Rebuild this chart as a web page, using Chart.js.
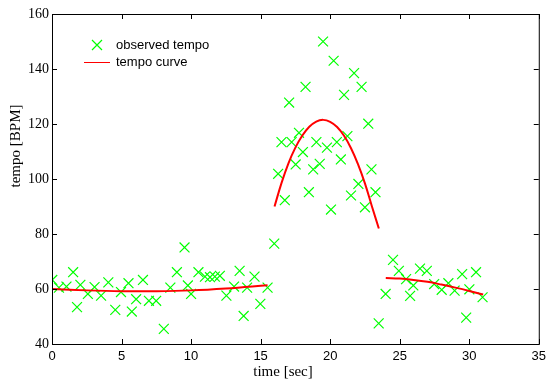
<!DOCTYPE html>
<html>
<head>
<meta charset="utf-8">
<title>tempo</title>
<script src="https://cdn.jsdelivr.net/npm/chart.js@4/dist/chart.umd.min.js"></script>
<style>
  body { margin: 0; background: #fff; }
  #wrap { width: 551px; height: 380px; }
</style>
</head>
<body>
<div id="wrap"><canvas id="tempoChart" width="551" height="380"></canvas></div>
<script>
// ====================================
// DATA
// ====================================

// observed tempo (time in sec, tempo in BPM)
const obsTime = [
    0.02, 0.5, 1.04, 1.52, 1.8, 2.04, 2.58, 3.06, 3.53, 4.05, 4.55, 4.96, 5.5, 5.74, 6.05,
    6.54, 6.97, 7.49, 8.04, 8.51, 8.98, 9.53, 9.77, 10.0, 10.53, 11.0, 11.36, 11.71, 12.07,
    12.54, 13.09, 13.49, 13.78, 14.03, 14.56, 14.98, 15.5, 15.98,
    16.26, 16.5, 16.74, 17.05, 17.23, 17.52, 17.76, 18.04, 18.23, 18.47, 18.78, 19.01, 19.25,
    19.49, 19.77, 20.06, 20.25, 20.48, 20.77, 21.0, 21.24, 21.5, 21.72, 22.03, 22.26, 22.5,
    22.74, 22.97, 23.26, 23.49,
    23.99, 24.52, 24.94, 25.46, 25.75, 25.98, 26.46, 26.95, 27.48, 28.02, 28.5, 28.95, 29.49,
    29.78, 30.01, 30.49, 30.96
];
const obsTempo = [
    63.3, 60.5, 60.9, 66.1, 53.4, 61.5, 58.2, 60.7, 57.6, 62.4, 52.4, 58.9, 62.1, 51.8, 56.3,
    63.3, 55.7, 55.7, 45.5, 60.5, 66.1, 75.1, 61.3, 58.2, 66.1, 64.5, 64.3, 64.5, 64.8,
    57.6, 60.9, 66.6, 50.2, 60.5, 64.5, 54.6, 60.5, 76.5,
    101.9, 113.4, 92.3, 127.8, 113.4, 105.3, 116.8, 109.8, 133.5, 95.2, 103.5, 113.4, 105.5,
    150.0, 111.4, 88.9, 143.0, 113.4, 107.1, 130.6, 115.6, 94.0, 138.5, 98.2, 133.5, 89.7,
    120.1, 103.5, 95.2, 47.5,
    58.2, 70.6, 66.6, 63.6, 57.5, 61.3, 67.4, 66.6, 61.8, 59.7, 62.1, 59.4, 65.4,
    49.6, 59.9, 66.1, 57.0
];

// fitted tempo curve, three pieces
const curve1Time  = [0, 2.5, 5, 7.5, 10, 12.5, 15.5];
const curve1Tempo = [60.0, 59.5, 59.2, 59.2, 59.5, 60.2, 61.4];

const curve2Time  = [16.0, 16.5, 17.0, 17.5, 18.0, 18.5, 19.0, 19.5, 20.0, 20.5, 21.0, 21.5, 22.0, 22.5, 23.0, 23.5];
const curve2Tempo = [90.0, 98.5, 105.7, 111.4, 115.8, 119.0, 120.9, 121.5, 120.8, 118.9, 115.7, 111.2, 105.4, 98.4, 90.1, 82.0];

const curve3Time  = [24, 25, 26, 27, 28, 29, 30, 31];
const curve3Tempo = [64.0, 63.8, 63.3, 62.6, 61.6, 60.5, 59.3, 58.0];

// axes
const xTickValues = [0, 5, 10, 15, 20, 25, 30, 35];
const yTickValues = [40, 60, 80, 100, 120, 140, 160];
const xTitle = 'time [sec]';
const yTitle = 'tempo [BPM]';
const legendLabels = ['observed tempo', 'tempo curve'];

// ====================================
// HELPERS
// ====================================

function toPoints(xs, ys) {
    return xs.map((x, i) => ({ x: x, y: ys[i] }));
}

const GREEN = '#00ff00';
const RED = '#ff0000';

// box, inward ticks, axis titles and legend
const framePlugin = {
    id: 'frame',
    afterDraw(chart) {
        const ctx = chart.ctx;
        const a = chart.chartArea;
        const xs = chart.scales.x;
        const ys = chart.scales.y;
        const tl = 5;

        ctx.save();
        ctx.strokeStyle = '#000';
        ctx.lineWidth = 1;
        ctx.strokeRect(a.left + 0.5, a.top + 0.5, a.right - a.left, a.bottom - a.top);

        ctx.beginPath();
        xTickValues.forEach(v => {
            const px = Math.round(xs.getPixelForValue(v)) + 0.5;
            ctx.moveTo(px, a.bottom);
            ctx.lineTo(px, a.bottom - tl);
            ctx.moveTo(px, a.top);
            ctx.lineTo(px, a.top + tl);
        });
        yTickValues.forEach(v => {
            const py = Math.round(ys.getPixelForValue(v)) + 0.5;
            ctx.moveTo(a.left, py);
            ctx.lineTo(a.left + tl, py);
            ctx.moveTo(a.right, py);
            ctx.lineTo(a.right - tl, py);
        });
        ctx.stroke();

        // axis titles
        ctx.fillStyle = '#000';
        ctx.font = '15px "Liberation Serif", serif';
        ctx.textAlign = 'center';
        ctx.textBaseline = 'middle';
        ctx.fillText(xTitle, 283, 372);
        ctx.translate(16, 146);
        ctx.rotate(-Math.PI / 2);
        ctx.fillText(yTitle, 0, 0);
        ctx.setTransform(1, 0, 0, 1, 0, 0);

        // legend
        const lx = a.left + 45;
        const ly = a.top + 31;
        ctx.strokeStyle = GREEN;
        ctx.lineWidth = 1.2;
        ctx.beginPath();
        ctx.moveTo(lx - 5, ly - 5);
        ctx.lineTo(lx + 5, ly + 5);
        ctx.moveTo(lx - 5, ly + 5);
        ctx.lineTo(lx + 5, ly - 5);
        ctx.stroke();

        ctx.strokeStyle = RED;
        ctx.lineWidth = 1;
        ctx.beginPath();
        ctx.moveTo(lx - 13, ly + 17.5);
        ctx.lineTo(lx + 13, ly + 17.5);
        ctx.stroke();

        ctx.fillStyle = '#000';
        ctx.font = '13px "Liberation Sans", Arial, sans-serif';
        ctx.textAlign = 'left';
        ctx.fillText(legendLabels[0], lx + 19, ly);
        ctx.fillText(legendLabels[1], lx + 19, ly + 17);
        ctx.restore();
    }
};

const curveStyle = {
    type: 'line',
    borderColor: RED,
    borderWidth: 2,
    pointRadius: 0,
    fill: false,
    tension: 0.4,
    showLine: true
};

// ====================================
// CHART
// ====================================

new Chart(document.getElementById('tempoChart'), {
    type: 'scatter',
    data: {
        datasets: [
            Object.assign({ label: legendLabels[1], data: toPoints(curve1Time, curve1Tempo) }, curveStyle),
            Object.assign({ label: legendLabels[1], data: toPoints(curve2Time, curve2Tempo) }, curveStyle),
            Object.assign({ label: legendLabels[1], data: toPoints(curve3Time, curve3Tempo) }, curveStyle),
            {
                label: legendLabels[0],
                data: toPoints(obsTime, obsTempo),
                pointStyle: 'crossRot',
                pointRadius: 7,
                pointBorderWidth: 1.2,
                borderColor: GREEN,
                backgroundColor: GREEN
            }
        ]
    },
    options: {
        responsive: false,
        animation: false,
        layout: { padding: { top: 14, right: 7, left: 0, bottom: 0 } },
        plugins: {
            legend: { display: false },
            tooltip: { enabled: false }
        },
        scales: {
            x: {
                type: 'linear',
                min: xTickValues[0],
                max: xTickValues[xTickValues.length - 1],
                afterBuildTicks: s => { s.ticks = xTickValues.map(v => ({ value: v })); },
                afterFit: s => { s.height = 36; },
                grid: { display: false, drawTicks: false },
                border: { display: false },
                ticks: {
                    color: '#000',
                    padding: 5,
                    maxRotation: 0,
                    font: { family: '"Liberation Sans", Arial, sans-serif', size: 13 }
                }
            },
            y: {
                type: 'linear',
                min: yTickValues[0],
                max: yTickValues[yTickValues.length - 1],
                afterBuildTicks: s => { s.ticks = yTickValues.map(v => ({ value: v })); },
                afterFit: s => { s.width = 52; },
                grid: { display: false, drawTicks: false },
                border: { display: false },
                ticks: {
                    color: '#000',
                    padding: 3,
                    font: { family: '"Liberation Serif", serif', size: 14 }
                }
            }
        }
    },
    plugins: [framePlugin]
});
</script>
</body>
</html>
